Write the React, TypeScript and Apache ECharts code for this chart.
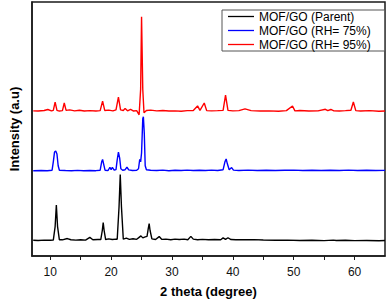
import React, { useEffect, useRef } from "react";
import * as echarts from "echarts";

const seriesNames = ["MOF/GO (Parent)", "MOF/GO (RH= 75%)", "MOF/GO (RH= 95%)"];
const seriesColors = ["#000000", "#0000ff", "#ff0000"];

// 2θ (degree) vs intensity (a.u., stacked offsets included)
const parent: [number, number][] = [
  [7.2, 160], [8.0, 158], [9.0, 162], [10.0, 160], [10.5, 162], [10.8, 300], [11.0, 520], [11.2, 300], [11.5, 165],
  [12.0, 165], [12.8, 178], [13.4, 166], [14.2, 162], [15.0, 165], [15.8, 162], [16.5, 190], [17.0, 166], [17.8, 168],
  [18.3, 168], [18.55, 260], [18.7, 340], [18.85, 260], [19.1, 168], [19.6, 175], [20.2, 168], [20.8, 172],
  [21.0, 170], [21.3, 500], [21.5, 830], [21.7, 500], [22.0, 172], [22.5, 182], [23.0, 170], [23.6, 176],
  [24.2, 170], [24.6, 190], [24.9, 205], [25.2, 185], [25.6, 195], [25.9, 200], [26.1, 280], [26.25, 330],
  [26.4, 260], [26.7, 175], [27.3, 168], [27.9, 198], [28.3, 170], [29.0, 172], [29.8, 166], [30.5, 172],
  [31.2, 168], [32.0, 172], [32.6, 166], [33.1, 200], [33.5, 172], [34.2, 166], [35.0, 170], [36.0, 165],
  [37.0, 168], [38.0, 166], [38.4, 185], [38.8, 170], [39.2, 186], [39.7, 168], [40.5, 166], [42.0, 165],
  [43.5, 167], [45.0, 163], [47.0, 160], [49.0, 162], [51.0, 158], [53.0, 160], [55.0, 157], [56.5, 162],
  [57.0, 158], [58.5, 160], [60.0, 157], [62.0, 158], [64.0, 156], [65.0, 158],
];

const rh75: [number, number][] = [
  [7.2, 870], [8.5, 872], [9.5, 870], [10.3, 875], [10.5, 960], [10.7, 1060], [10.9, 1070], [11.1, 1040],
  [11.3, 920], [11.5, 875], [12.5, 872], [13.5, 870], [14.5, 873], [15.5, 870], [16.5, 872], [17.5, 870],
  [18.2, 875], [18.45, 960], [18.6, 985], [18.8, 930], [19.0, 875], [19.5, 872], [19.8, 905], [20.0, 880],
  [20.2, 905], [20.5, 875], [20.8, 880], [21.0, 980], [21.2, 1060], [21.4, 1000], [21.6, 890], [21.9, 875],
  [22.3, 880], [22.6, 905], [22.9, 878], [23.5, 872], [24.2, 875], [24.5, 890], [24.7, 985], [24.85, 960],
  [25.0, 1050], [25.2, 1400], [25.3, 1420], [25.45, 1250], [25.6, 920], [25.8, 880], [26.5, 875],
  [27.5, 872], [28.5, 876], [29.5, 870], [30.5, 874], [31.5, 872], [32.5, 876], [33.5, 872], [34.5, 875],
  [35.5, 872], [36.5, 876], [37.5, 872], [38.4, 880], [38.7, 960], [38.9, 990], [39.1, 940], [39.4, 880],
  [39.8, 902], [40.1, 876], [41.0, 872], [42.5, 876], [44.0, 872], [45.5, 875], [47.0, 872], [48.5, 874],
  [50.0, 876], [51.5, 872], [53.0, 874], [54.5, 872], [56.0, 875], [57.5, 872], [59.0, 876], [60.5, 872],
  [62.0, 874], [63.5, 872], [65.0, 873],
];

const rh95: [number, number][] = [
  [7.2, 1480], [8.0, 1478], [9.0, 1484], [9.6, 1494], [10.2, 1480], [10.5, 1485], [10.8, 1570], [11.1, 1485],
  [11.5, 1478], [12.0, 1482], [12.3, 1560], [12.6, 1485], [13.2, 1490], [14.0, 1480], [14.8, 1486],
  [15.6, 1478], [16.5, 1482], [17.5, 1478], [18.2, 1482], [18.6, 1580], [18.95, 1484], [19.6, 1488],
  [20.3, 1480], [20.8, 1490], [21.2, 1620], [21.55, 1490], [22.0, 1484], [22.3, 1505], [22.7, 1480],
  [23.2, 1495], [23.7, 1478], [24.2, 1482], [24.6, 1440], [24.85, 1700], [25.0, 2440], [25.2, 1700],
  [25.4, 1460], [25.8, 1484], [26.5, 1488], [27.5, 1480], [28.5, 1484], [29.5, 1478], [30.5, 1480],
  [31.5, 1476], [32.5, 1482], [33.5, 1484], [34.2, 1530], [34.6, 1485], [35.3, 1560], [35.7, 1482],
  [36.5, 1480], [37.5, 1482], [38.4, 1485], [38.8, 1640], [39.2, 1485], [40.0, 1480], [41.0, 1482],
  [42.0, 1500], [43.0, 1482], [44.5, 1478], [46.0, 1480], [47.5, 1476], [48.8, 1482], [49.8, 1530],
  [50.2, 1480], [51.0, 1484], [52.5, 1478], [54.0, 1480], [55.2, 1496], [55.6, 1482], [56.1, 1494],
  [56.6, 1480], [57.5, 1478], [58.5, 1482], [59.4, 1486], [59.8, 1570], [60.2, 1482], [61.0, 1478],
  [62.5, 1482], [64.0, 1476], [65.0, 1478],
];

const xTickValues = [10, 15, 20, 25, 30, 35, 40, 45, 50, 55, 60];
const xLabelValues = [10, 20, 30, 40, 50, 60];

export default function App() {
  const ref = useRef<HTMLDivElement>(null);
  useEffect(() => {
    if (!ref.current) return;
    const chart = echarts.init(ref.current, null, { renderer: "svg" });
    const datasets = [parent, rh75, rh95];
    chart.setOption({
      animation: false,
      backgroundColor: "#ffffff",
      grid: {
        left: 27,
        right: 2,
        top: 2,
        bottom: 42,
        show: true,
        borderColor: "#1a1a1a",
        borderWidth: 1.5,
        backgroundColor: "transparent",
      },
      legend: {
        orient: "vertical",
        left: 222,
        top: 10,
        data: seriesNames,
        borderColor: "#555555",
        borderWidth: 1,
        backgroundColor: "#ffffff",
        padding: [0, 14, 0, 6],
        itemGap: 1,
        itemWidth: 26,
        itemHeight: 13,
        icon: "path://M0,6 L26,6 L26,7.3 L0,7.3 Z",
        textStyle: {
          fontFamily: "Liberation Sans, Arial, sans-serif",
          fontSize: 12,
          lineHeight: 13,
          color: "#000000",
        },
      },
      xAxis: {
        type: "value",
        min: 7,
        max: 65,
        name: "2 theta (degree)",
        nameLocation: "middle",
        nameGap: 29,
        nameTextStyle: {
          fontFamily: "Liberation Sans, Arial, sans-serif",
          fontWeight: "bold",
          fontSize: 13,
          color: "#000000",
        },
        axisLine: { show: true, onZero: false, lineStyle: { color: "#1a1a1a", width: 1.5 } },
        axisTick: {
          show: true,
          inside: false,
          length: 4,
          customValues: xTickValues,
          lineStyle: { color: "#1a1a1a", width: 1 },
        },
        axisLabel: {
          customValues: xLabelValues,
          fontFamily: "Liberation Sans, Arial, sans-serif",
          fontSize: 12,
          color: "#111111",
          margin: 10,
        },
        splitLine: { show: false },
        minorTick: { show: false },
      },
      yAxis: {
        type: "value",
        min: 0,
        max: 2590,
        name: "Intensity (a.u)",
        nameLocation: "middle",
        nameGap: 11,
        nameTextStyle: {
          fontFamily: "Liberation Sans, Arial, sans-serif",
          fontWeight: "bold",
          fontSize: 13,
          color: "#000000",
        },
        axisLine: { show: true, lineStyle: { color: "#1a1a1a", width: 1.5 } },
        axisTick: { show: false },
        axisLabel: { show: false },
        splitLine: { show: false },
      },
      series: datasets.map((d, i) => ({
        name: seriesNames[i],
        type: "line",
        data: d,
        symbol: "none",
        smooth: false,
        z: 3 - i,
        lineStyle: { color: seriesColors[i], width: 1.4 },
        itemStyle: { color: seriesColors[i] },
      })),
    });
    return () => chart.dispose();
  }, []);
  return <div ref={ref} style={{ width: 387, height: 303, position: "absolute", left: 0, top: 0 }} />;
}
